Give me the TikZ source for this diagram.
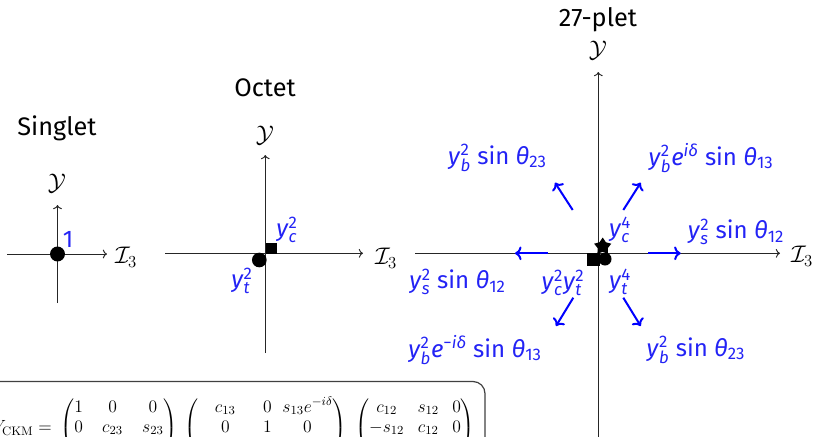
\RequirePackage{fix-cm}
\documentclass[tikz,border=0pt]{standalone}
\usepackage{amsmath}
\usepackage[no-math]{fontspec}
\setmainfont{Fira Sans}
\usetikzlibrary{shapes.geometric,arrows.meta}
\definecolor{lblue}{RGB}{35,35,245}
\newcommand{\yv}[2]{\textit{y}$^{\text{#2}}_{\textit{#1}}$}
\newcommand{\thv}[1]{\textit{θ}$_{\text{#1}}$}
\newcommand{\rowstrut}{\setbox\strutbox\hbox{\vrule height 10.5pt depth 4.5pt width 0pt}}
\tikzset{
  axis/.style={draw=black!85, line width=0.7pt, ->},
  barrow/.style={draw=blue, line width=1.5pt, ->},
  title/.style={font=\fontsize{19}{22}\selectfont},
  axlab/.style={font=\fontsize{18}{22}\selectfont, inner sep=0pt},
  lab/.style={font=\fontsize{18}{22}\selectfont, text=lblue, inner sep=0pt},
  dot/.style={circle, fill=black, inner sep=0pt},
  sq/.style={rectangle, fill=black, inner sep=0pt},
  starm/.style={star, star points=5, star point ratio=1.7, fill=black, inner sep=0pt, minimum size=13.5pt},
  mtx/.style={inner sep=0pt, font=\fontsize{13.2}{15}\selectfont},
  mboxline/.style={draw=black!75, line width=0.9pt, rounded corners=9pt}
}
\begin{document}
\begin{tikzpicture}[x=0.75pt, y=-0.75pt]
\useasboundingbox (0,0) rectangle (814,436);
\clip (0,0) rectangle (814,436);

% ---------- Singlet ----------
\node[title] (ts) at (57,128) {Singlet};
\coordinate (s-l) at (7,254);
\coordinate (s-r) at (107,254);
\coordinate (s-b) at (57.5,303);
\coordinate (s-t) at (57.5,205);
\draw[axis] (s-l) -- (s-r);
\draw[axis] (s-b) -- (s-t);
\node[axlab] (sy) at (57,183) {$\mathcal{Y}$};
\node[axlab] (sx) at (126,257) {$\mathcal{I}_3$};
\node[dot, minimum size=11.2pt] (s0) at (57.5,254) {};
\node[lab] (s1) at (68,239) {1};

% ---------- Octet ----------
\node[title] (to) at (265,88) {Octet};
\coordinate (o-l) at (165,253.3);
\coordinate (o-r) at (363,253.3);
\coordinate (o-b) at (265.3,353);
\coordinate (o-t) at (265.3,155);
\draw[axis] (o-l) -- (o-r);
\draw[axis] (o-b) -- (o-t);
\node[axlab] (oy) at (265,135) {$\mathcal{Y}$};
\node[axlab] (ox) at (386,258) {$\mathcal{I}_3$};
\node[sq, minimum size=7.9pt] (osq) at (271.3,248.3) {};
\node[dot, minimum size=11pt] (oc) at (259.3,260) {};
\node[lab] (oyc) at (287,230) {\yv{c}{2}};
\node[lab] (oyt) at (242,281) {\yv{t}{2}};

% ---------- 27-plet ----------
\node[title] (tt) at (598,20) {27-plet};
\coordinate (t-l) at (415,253.3);
\coordinate (t-r) at (780,253.3);
\coordinate (t-b) at (598.3,450);
\coordinate (t-t) at (598.3,72);
\draw[axis] (t-l) -- (t-r);
\draw[axis] (t-b) -- (t-t);
\node[axlab] (ty) at (598,50) {$\mathcal{Y}$};
\node[axlab] (tx) at (802,256) {$\mathcal{I}_3$};

\node[sq, minimum size=9.75pt] (tsq) at (593.3,259.2) {};
\node[dot, minimum size=9.75pt] (tc) at (605,259) {};
\node[starm] (tst) at (602.7,246.5) {};

\node[lab] (tyc4) at (620,230) {\yv{c}{4}};
\node[lab] (tyt4) at (620,282) {\yv{t}{4}};
\node[lab] (tyct) at (563,283) {\yv{c}{2}\yv{t}{2}};

% arrows
\coordinate (a1s) at (572.7,210); \coordinate (a1e) at (555,182.7);
\coordinate (a2s) at (623.3,210); \coordinate (a2e) at (640.7,182.7);
\coordinate (a3s) at (548.3,253.3); \coordinate (a3e) at (515,253.3);
\coordinate (a4s) at (648.3,253.3); \coordinate (a4e) at (680.7,253.3);
\coordinate (a5s) at (573.3,297.7); \coordinate (a5e) at (556,326);
\coordinate (a6s) at (623.3,297.7); \coordinate (a6e) at (640.7,326);
\draw[barrow] (a1s) -- (a1e);
\draw[barrow] (a2s) -- (a2e);
\draw[barrow] (a3s) -- (a3e);
\draw[barrow] (a4s) -- (a4e);
\draw[barrow] (a5s) -- (a5e);
\draw[barrow] (a6s) -- (a6e);

\node[lab] (l1) at (497.5,158) {\yv{b}{2} sin \thv{23}};
\node[lab] (l2) at (711,158) {\yv{b}{2}\textit{e}$^{\textit{iδ}}$ sin \thv{13}};
\node[lab] (l3) at (736,232) {\yv{s}{2} sin \thv{12}};
\node[lab] (l4) at (457.5,282) {\yv{s}{2} sin \thv{12}};
\node[lab] (l5) at (475,350) {\yv{b}{2}\textit{e}$^{\text{−}\textit{iδ}}$ sin \thv{13}};
\node[lab] (l6) at (696,350) {\yv{b}{2} sin \thv{23}};

% ---------- CKM box ----------
\draw[mboxline] (-40,480) rectangle (485,381.5);
\node[mtx, anchor=base east] (vck) at (52,432.4) {$V_{\mathrm{CKM}} =$};
\node[mtx] (m1) at (119,428) {\rowstrut\setlength{\arraycolsep}{4.5pt}$\begin{pmatrix} 1 & 0 & 0\\ 0 & c_{23} & s_{23}\\ 0 & -s_{23} & c_{23}\end{pmatrix}$};
\node[mtx] (m2) at (265.5,428) {\rowstrut\setlength{\arraycolsep}{4pt}$\begin{pmatrix} c_{13} & 0 & s_{13}e^{-i\delta}\\ 0 & 1 & 0\\ -s_{13}e^{i\delta} & 0 & c_{13}\end{pmatrix}$};
\node[mtx] (m3) at (415,428) {\rowstrut\setlength{\arraycolsep}{5pt}$\begin{pmatrix} c_{12} & s_{12} & 0\\ -s_{12} & c_{12} & 0\\ 0 & 0 & 1\end{pmatrix}$};
\end{tikzpicture}
\end{document}
